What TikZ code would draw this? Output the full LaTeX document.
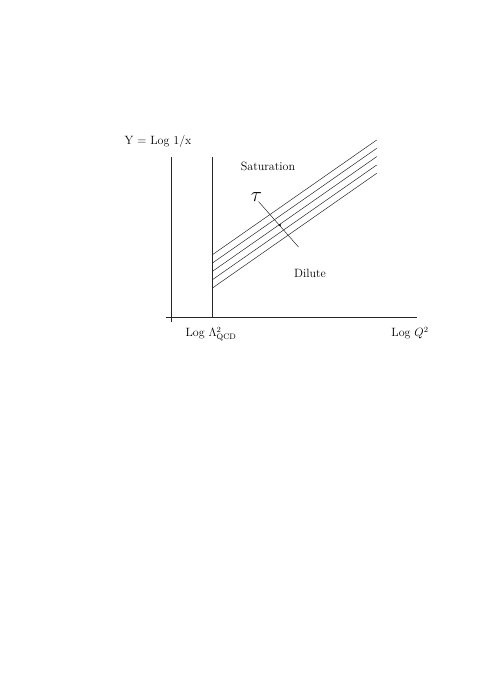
\documentclass[tikz,border=0pt]{standalone}
\begin{document}
\begin{tikzpicture}[x=1pt,y=-1pt,line width=0.5pt,
  lbl/.style={inner sep=0pt,font=\fontsize{12}{14}\selectfont},
  band/.style={draw=black!85}]
\useasboundingbox (0,0) rectangle (491,693);
% axes
\coordinate (yb) at (171,322);
\coordinate (yt) at (171,157);
\coordinate (xl) at (166,317);
\coordinate (xr) at (417,317);
\coordinate (lb) at (212,317);
\coordinate (lt) at (212,157);
\draw[band] (yb) -- (yt);
\draw[band] (xl) -- (xr);
\draw[band] (lb) -- (lt);
% saturation lines
\foreach \i in {0,...,4}{
  \coordinate (s\i) at (212,{255+8.33*\i});
  \coordinate (e\i) at (376.7,{140+8.33*\i});
  \draw[band] (s\i) -- (e\i);
}
% tau line
\coordinate (ta) at (258.5,201.5);
\coordinate (tb) at (298.5,247);
\draw[band] (ta) -- (tb);
\fill (280,225) circle (1.1pt);
\node[inner sep=0pt,font=\fontsize{20}{24}\selectfont] (tau) at (256.5,197.5) {$\tau$};
% labels
\node[lbl] (ylab) at (158,141) {Y = Log 1/x};
\node[lbl] (sat) at (268,166) {Saturation};
\node[lbl] (dil) at (310,273) {Dilute};
\node[lbl] (lam) at (211,334) {Log $\Lambda^2_{\mathrm{QCD}}$};
\node[lbl] (q2) at (410,333) {Log $Q^2$};
\end{tikzpicture}
\end{document}
